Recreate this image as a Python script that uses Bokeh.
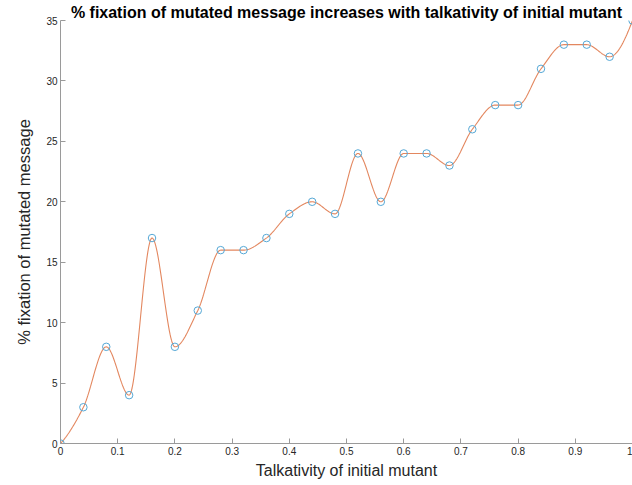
import numpy as np
from bokeh.plotting import figure
from bokeh.models import FixedTicker, Title
from bokeh.embed import file_html
from bokeh.resources import INLINE

talkativity = [0.00, 0.04, 0.08, 0.12, 0.16, 0.20, 0.24, 0.28, 0.32, 0.36, 0.40, 0.44, 0.48,
               0.52, 0.56, 0.60, 0.64, 0.68, 0.72, 0.76, 0.80, 0.84, 0.88, 0.92, 0.96, 1.00]
fixation = [0, 3, 8, 4, 17, 8, 11, 16, 16, 17, 19, 20, 19,
            24, 20, 24, 24, 23, 26, 28, 28, 31, 33, 33, 32, 35]
x_ticks = [0, 0.1, 0.2, 0.3, 0.4, 0.5, 0.6, 0.7, 0.8, 0.9, 1.0]
x_tick_labels = ["0", "0.1", "0.2", "0.3", "0.4", "0.5", "0.6", "0.7", "0.8", "0.9", "1"]
y_ticks = [0, 5, 10, 15, 20, 25, 30, 35]


def pchip(x, y, xs):
    x = np.asarray(x, float)
    y = np.asarray(y, float)
    h = np.diff(x)
    d = np.diff(y) / h
    n = len(x)
    m = np.zeros(n)
    for k in range(1, n - 1):
        if d[k - 1] * d[k] > 0:
            w1 = 2 * h[k] + h[k - 1]
            w2 = h[k] + 2 * h[k - 1]
            m[k] = (w1 + w2) / (w1 / d[k - 1] + w2 / d[k])
    def end(h0, h1, d0, d1):
        s = ((2 * h0 + h1) * d0 - h0 * d1) / (h0 + h1)
        if np.sign(s) != np.sign(d0):
            s = 0.0
        elif np.sign(d0) != np.sign(d1) and abs(s) > abs(3 * d0):
            s = 3 * d0
        return s
    m[0] = end(h[0], h[1], d[0], d[1])
    m[-1] = end(h[-1], h[-2], d[-1], d[-2])
    idx = np.clip(np.searchsorted(x, xs) - 1, 0, n - 2)
    t = (xs - x[idx]) / h[idx]
    h00 = 2 * t**3 - 3 * t**2 + 1
    h10 = t**3 - 2 * t**2 + t
    h01 = -2 * t**3 + 3 * t**2
    h11 = t**3 - t**2
    return h00 * y[idx] + h10 * h[idx] * m[idx] + h01 * y[idx + 1] + h11 * h[idx] * m[idx + 1]


xs = np.linspace(talkativity[0], talkativity[-1], 800)
ys = pchip(talkativity, fixation, xs)

FONT = "Liberation Sans"

p = figure(width=632, height=485, output_backend="svg", toolbar_location=None,
           x_range=(0, 1), y_range=(0, 35),
           min_border_left=60, min_border_right=0, min_border_top=20, min_border_bottom=42)
p.title = Title(text="% fixation of mutated message increases with talkativity of initial mutant",
                align="center", text_font=FONT, text_font_size="16px", text_font_style="bold",
                text_color="#000000", offset=0, standoff=0)
p.outline_line_color = None
p.xgrid.visible = False
p.ygrid.visible = False
p.background_fill_color = "white"
p.border_fill_color = "white"

p.line(xs, ys, line_color="#e3875f", line_width=1.1)
p.scatter(talkativity, fixation, marker="circle", size=7.5, fill_color=None,
          line_color="#55a8d6", line_width=1)

for ax in (p.xaxis[0], p.yaxis[0]):
    ax.axis_line_color = "#9a9a9a"
    ax.major_tick_line_color = "#9a9a9a"
    ax.major_tick_in = 5
    ax.major_tick_out = 0
    ax.minor_tick_line_color = None
    ax.major_label_text_font = FONT
    ax.major_label_text_font_size = "10px"
    ax.major_label_text_color = "#262626"
    ax.axis_label_text_font = FONT
    ax.axis_label_text_font_style = "normal"
    ax.axis_label_text_color = "#262626"

p.xaxis.ticker = FixedTicker(ticks=x_ticks)
p.xaxis.major_label_overrides = {t: l for t, l in zip(x_ticks, x_tick_labels)}
p.xaxis.major_label_standoff = 3
p.xaxis.axis_label = "Talkativity of initial mutant"
p.xaxis.axis_label_text_font_size = "16px"
p.xaxis.axis_label_standoff = 4

p.yaxis.ticker = FixedTicker(ticks=y_ticks)
p.yaxis.major_label_standoff = 3
p.yaxis.axis_label = "% fixation of mutated message"
p.yaxis.axis_label_text_font_size = "16.5px"
p.yaxis.axis_label_standoff = 10

open("out.html", "w").write(file_html(p, INLINE))
